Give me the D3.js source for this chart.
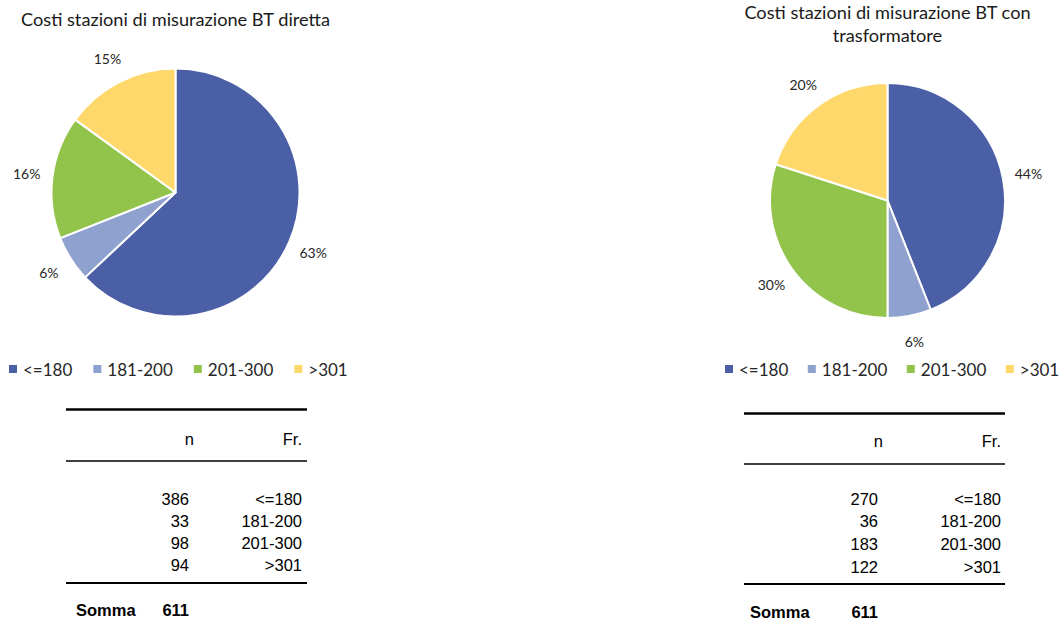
<!DOCTYPE html>
<html>
<head>
<meta charset="utf-8">
<script src="https://cdn.jsdelivr.net/npm/d3@7"></script>
<style>
  html, body { margin: 0; padding: 0; background: #fff; }
  svg { display: block; }
</style>
</head>
<body>
<svg id="chart" width="1064" height="632"></svg>
<script>
// Cost classes (EUR) shared by both charts
const categories = ["<=180", "181-200", "201-300", ">301"];
const palette = ["#4a5fa6", "#8fa1cf", "#92c34b", "#fed86b"];

// Direct-connection metering stations
const titleDiretta = ["Costi stazioni di misurazione BT diretta"];
const shareDiretta = [63, 6, 16, 15];        // % per class
const countDiretta = [386, 33, 98, 94];      // n per class
const totalDiretta = 611;

// Transformer-connected metering stations
const titleTrasf = ["Costi stazioni di misurazione BT con", "trasformatore"];
const shareTrasf = [44, 6, 30, 20];
const countTrasf = [270, 36, 183, 122];
const totalTrasf = 611;

// Table header labels
const tableHeaders = ["n", "Fr."];
const sumLabel = "Somma";

const svg = d3.select("#chart");
const titleFont = "Lato, 'Open Sans', sans-serif";
const tableFont = "'Liberation Sans', Arial, sans-serif";

const panels = [
  {
    title: titleDiretta, shares: shareDiretta, counts: countDiretta, total: totalDiretta,
    cx: 175.5, cy: 192.5, r: 124, titleY: 18.5, legendX: 9, legendGap: 21,
    table: { x0: 66, x1: 307, nRight: 189, frRight: 302, sumX: 76,
             top: 409.5, mid: 461, bottom: 583, headY: 445, rowY: 498.7, rowStep: 22.1, sumY: 616 }
  },
  {
    title: titleTrasf, shares: shareTrasf, counts: countTrasf, total: totalTrasf,
    cx: 887.5, cy: 200.5, r: 117.5, titleY: 12, legendX: 725, legendGap: 19.5,
    table: { x0: 744, x1: 1005, nRight: 878, frRight: 1001, sumX: 750,
             top: 413.5, mid: 464, bottom: 584, headY: 446.5, rowY: 498.7, rowStep: 22.6, sumY: 617.5 }
  }
];

const pie = d3.pie().sort(null).value(d => d.value);

panels.forEach(p => {
  const g = svg.append("g");

  // Title (centred over the pie)
  g.append("g").selectAll("text")
    .data(p.title)
    .join("text")
      .attr("x", p.cx)
      .attr("y", (d, i) => p.titleY + i * 22.5)
      .attr("text-anchor", "middle")
      .attr("dominant-baseline", "central")
      .attr("font-family", titleFont)
      .attr("font-size", 18.2)
      .attr("fill", "#1a1a1a")
      .text(d => d);

  // Pie slices, clockwise from 12 o'clock
  const data = categories.map((c, i) => ({ cat: c, value: p.shares[i], color: palette[i] }));
  const arcs = pie(data);
  const arc = d3.arc().innerRadius(0).outerRadius(p.r);
  const labelArc = d3.arc().innerRadius(p.r + 26).outerRadius(p.r + 26);

  const pg = g.append("g").attr("transform", `translate(${p.cx},${p.cy})`);
  pg.selectAll("path")
    .data(arcs)
    .join("path")
      .attr("d", arc)
      .attr("fill", d => d.data.color)
      .attr("stroke", "#fff")
      .attr("stroke-width", 2)
      .attr("stroke-linejoin", "round");

  pg.selectAll("text")
    .data(arcs)
    .join("text")
      .attr("transform", d => `translate(${labelArc.centroid(d)})`)
      .attr("text-anchor", "middle")
      .attr("dominant-baseline", "central")
      .attr("font-family", titleFont)
      .attr("font-size", 14)
      .attr("fill", "#262626")
      .text(d => d.data.value + "%");

  // Legend
  const lg = g.append("g").attr("transform", `translate(${p.legendX},369)`);
  let x = 0;
  categories.forEach((c, i) => {
    lg.append("rect")
      .attr("x", x).attr("y", -4)
      .attr("width", 8).attr("height", 8)
      .attr("fill", palette[i]);
    const t = lg.append("text")
      .attr("x", x + 14)
      .attr("y", 0)
      .attr("dominant-baseline", "central")
      .attr("font-family", titleFont)
      .attr("font-size", 17)
      .attr("fill", "#262626")
      .text(c);
    x += 14 + t.node().getComputedTextLength() + p.legendGap;
  });

  // Frequency table
  const t = p.table;
  const tg = g.append("g").attr("font-family", tableFont).attr("font-size", 16.5).attr("fill", "#000");
  [[t.top, 2.6], [t.mid, 1.3], [t.bottom, 1.8]].forEach(([y, w]) => {
    tg.append("line")
      .attr("x1", t.x0).attr("x2", t.x1)
      .attr("y1", y).attr("y2", y)
      .attr("stroke", "#000").attr("stroke-width", w);
  });
  tg.append("text").attr("x", t.nRight + 5).attr("y", t.headY)
    .attr("text-anchor", "end").text(tableHeaders[0]);
  tg.append("text").attr("x", t.frRight).attr("y", t.headY)
    .attr("text-anchor", "end").text(tableHeaders[1]);

  tg.append("g").selectAll("text")
    .data(p.counts)
    .join("text")
      .attr("x", t.nRight)
      .attr("y", (d, i) => t.rowY + 6 + i * t.rowStep)
      .attr("text-anchor", "end")
      .text(d => d);
  tg.append("g").selectAll("text")
    .data(categories)
    .join("text")
      .attr("x", t.frRight)
      .attr("y", (d, i) => t.rowY + 6 + i * t.rowStep)
      .attr("text-anchor", "end")
      .text(d => d);

  tg.append("text").attr("x", t.sumX).attr("y", t.sumY)
    .attr("font-weight", "bold").text(sumLabel);
  tg.append("text").attr("x", t.nRight).attr("y", t.sumY)
    .attr("text-anchor", "end").attr("font-weight", "bold").text(p.total);
});
</script>
</body>
</html>
